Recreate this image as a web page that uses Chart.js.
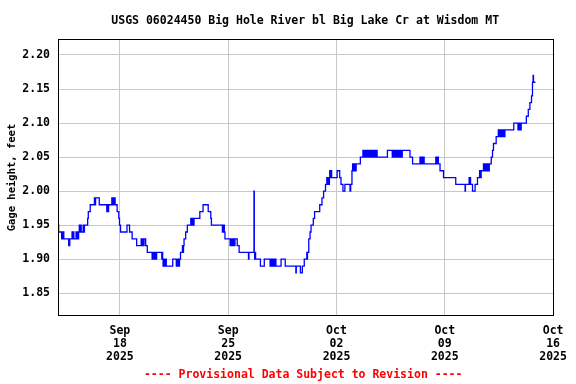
<!DOCTYPE html>
<html>
<head>
<meta charset="utf-8">
<title>USGS 06024450 Big Hole River</title>
<script src="https://cdn.jsdelivr.net/npm/chart.js@4.4.1/dist/chart.umd.min.js"></script>
<style>
  html, body { margin: 0; padding: 0; background: #fff; }
  canvas { display: block; }
</style>
</head>
<body>
<canvas id="gageChart" width="576" height="384"></canvas>
<script>
// === Data: hours counted from Sep 14 2025 00:00, gage height in feet ===
const hours = [
    0, 1, 5.7, 6.5, 7.5, 8.3, 9, 16.6, 18.2, 21.8,
    22.4, 24, 24.6, 28, 29, 30, 31, 32, 33, 34,
    35, 36, 39, 40, 41, 46, 47, 50, 56.5, 57.5,
    58.3, 64, 75.7, 76.5, 77.5, 78.5, 83.5, 84.5, 85.5, 86.5,
    87.5, 88.6, 91.7, 94.3, 95.4, 97, 107, 111, 115, 122,
    129, 130, 131, 132.5, 133.5, 136, 138.5, 146, 147, 148.5,
    150, 151.5, 153, 161, 161.7, 162.3, 163, 164, 165, 166,
    168, 178, 183.5, 184.5, 185.5, 186.5, 187.5, 188.5, 190, 193,
    194, 194.7, 195.5, 198, 200.6, 206, 207, 208.5, 210, 211,
    220, 225, 233, 237, 238, 255, 257, 258, 259, 267,
    268.5, 270, 271.5, 273, 274.5, 278, 281, 295.5, 296.2, 304,
    304.5, 305, 305.8, 306.5, 314, 320, 329, 330, 331.5, 333,
    334.5, 336, 338, 346, 352.5, 369, 369.6, 376, 379, 382,
    386, 386.7, 387, 389, 391, 392.5, 396, 398, 406, 409.5,
    412, 415, 417, 418, 419, 420, 421, 421.5, 422, 424,
    424.5, 433, 437, 439, 442, 445, 453, 454, 456, 457,
    458, 459.5, 461, 462.5, 469, 473, 474, 475.5, 477, 478.5,
    480, 481.5, 483, 484.5, 486, 487.5, 489, 490.5, 492, 493.5,
    495, 511, 518.5, 519.5, 521, 522.5, 524, 525.5, 527, 528.5,
    530, 531.5, 533, 534, 546, 550, 561.5, 563, 564.5, 566,
    567, 568, 586, 587.5, 588.5, 590, 592.6, 598, 617, 631.5,
    632, 637.7, 638.5, 639, 640, 643, 647, 650.7, 654, 655,
    656.4, 660, 661.5, 663, 664.5, 666, 667.5, 669, 672, 674,
    675.5, 679.7, 683, 684, 685, 686, 688, 689.5, 691, 692.5,
    693.2, 707, 713.5, 714.5, 715.5, 717, 718, 718.5, 726.5, 729.5,
    732, 734.5, 736, 737, 737.6, 740.5
];
const gageFt = [
    1.95, 1.94, 1.93, 1.94, 1.93, 1.94, 1.93, 1.92, 1.93, 1.94,
    1.93, 1.94, 1.93, 1.94, 1.93, 1.94, 1.93, 1.94, 1.95, 1.94,
    1.95, 1.94, 1.95, 1.94, 1.95, 1.96, 1.97, 1.98, 1.99, 1.98,
    1.99, 1.98, 1.97, 1.98, 1.97, 1.98, 1.99, 1.98, 1.99, 1.98,
    1.99, 1.98, 1.97, 1.96, 1.95, 1.94, 1.95, 1.94, 1.93, 1.92,
    1.93, 1.92, 1.93, 1.92, 1.93, 1.92, 1.91, 1.90, 1.91, 1.90,
    1.91, 1.90, 1.91, 1.90, 1.91, 1.90, 1.89, 1.90, 1.89, 1.90,
    1.89, 1.90, 1.89, 1.90, 1.89, 1.90, 1.89, 1.90, 1.91, 1.92,
    1.91, 1.92, 1.93, 1.94, 1.95, 1.96, 1.95, 1.96, 1.95, 1.96,
    1.97, 1.98, 1.97, 1.96, 1.95, 1.94, 1.95, 1.94, 1.93, 1.92,
    1.93, 1.92, 1.93, 1.92, 1.93, 1.92, 1.91, 1.90, 1.91, 2.00,
    1.91, 1.90, 1.91, 1.90, 1.89, 1.90, 1.89, 1.90, 1.89, 1.90,
    1.89, 1.90, 1.89, 1.90, 1.89, 1.88, 1.89, 1.88, 1.89, 1.90,
    1.91, 1.90, 1.91, 1.93, 1.94, 1.95, 1.96, 1.97, 1.98, 1.99,
    2.00, 2.01, 2.02, 2.01, 2.02, 2.01, 2.02, 2.03, 2.02, 2.03,
    2.02, 2.03, 2.02, 2.01, 2.00, 2.01, 2.00, 2.01, 2.03, 2.04,
    2.03, 2.04, 2.03, 2.04, 2.05, 2.06, 2.05, 2.06, 2.05, 2.06,
    2.05, 2.06, 2.05, 2.06, 2.05, 2.06, 2.05, 2.06, 2.05, 2.06,
    2.05, 2.06, 2.05, 2.06, 2.05, 2.06, 2.05, 2.06, 2.05, 2.06,
    2.05, 2.06, 2.05, 2.06, 2.05, 2.04, 2.05, 2.04, 2.05, 2.04,
    2.05, 2.04, 2.05, 2.04, 2.05, 2.04, 2.03, 2.02, 2.01, 2.00,
    2.01, 2.02, 2.01, 2.02, 2.01, 2.00, 2.01, 2.02, 2.03, 2.02,
    2.03, 2.04, 2.03, 2.04, 2.03, 2.04, 2.03, 2.04, 2.05, 2.06,
    2.07, 2.08, 2.09, 2.08, 2.09, 2.08, 2.09, 2.08, 2.09, 2.08,
    2.09, 2.10, 2.09, 2.10, 2.09, 2.10, 2.09, 2.10, 2.11, 2.12,
    2.13, 2.14, 2.16, 2.17, 2.16, 2.16
];

// === Axis ticks ===
const xTickHours = [96, 264, 432, 600, 768];
const xTickLabels = [
    ["Sep", "18", "2025"],
    ["Sep", "25", "2025"],
    ["Oct", "02", "2025"],
    ["Oct", "09", "2025"],
    ["Oct", "16", "2025"]
];
const yTicks = [1.85, 1.90, 1.95, 2.00, 2.05, 2.10, 2.15, 2.20];

const chartTitle = "USGS 06024450 Big Hole River bl Big Lake Cr at Wisdom MT";
const footerText = "---- Provisional Data Subject to Revision ----";
const monoFont = "'DejaVu Sans Mono', 'Liberation Mono', monospace";

// === Frame, title and footer ===
const framePlugin = {
    id: "framePlugin",
    afterDraw(chart) {
        const { ctx, chartArea: a } = chart;
        const cx = (a.left + a.right) / 2;
        ctx.save();
        ctx.strokeStyle = "#000";
        ctx.lineWidth = 1;
        ctx.strokeRect(Math.round(a.left) + 0.5, Math.round(a.top) + 0.5,
            Math.round(a.right - a.left) - 1, Math.round(a.bottom - a.top) - 1);

        ctx.font = "bold 11.5px " + monoFont;
        ctx.textAlign = "center";
        ctx.textBaseline = "middle";
        ctx.fillStyle = "#000";
        ctx.fillText(chartTitle, cx - 1, 21);
        ctx.fillStyle = "#ff0000";
        ctx.fillText(footerText, cx - 3, 375);
        ctx.restore();
    }
};

const points = hours.map((h, i) => ({ x: h, y: gageFt[i] }));

new Chart(document.getElementById("gageChart"), {
    type: "line",
    data: {
        datasets: [{
            label: "Gage height",
            data: points,
            borderColor: "#0000ff",
            borderWidth: 1.3,
            pointRadius: 0,
            stepped: "before",
            fill: false
        }]
    },
    options: {
        responsive: false,
        animation: false,
        layout: { padding: { top: 39, right: 21, left: 0, bottom: 0 } },
        plugins: {
            legend: { display: false },
            tooltip: { enabled: false }
        },
        scales: {
            x: {
                type: "linear",
                min: 0,
                max: 770,
                afterBuildTicks: scale => {
                    scale.ticks = xTickHours.map(v => ({ value: v }));
                },
                afterFit: scale => { scale.height = 68; },
                grid: { color: "#c8c8c8", lineWidth: 1, drawTicks: false },
                border: { display: false },
                ticks: {
                    autoSkip: false,
                    maxRotation: 0,
                    padding: 9,
                    color: "#000",
                    font: { family: monoFont, size: 11.5, weight: "bold", lineHeight: 1.1 },
                    callback: (value, index) => xTickLabels[index]
                }
            },
            y: {
                type: "linear",
                min: 1.8166,
                max: 2.2235,
                afterBuildTicks: scale => {
                    scale.ticks = yTicks.map(v => ({ value: v }));
                },
                afterFit: scale => { scale.width = 58; },
                grid: { color: "#c8c8c8", lineWidth: 1, drawTicks: false },
                border: { display: false },
                ticks: {
                    padding: 8,
                    color: "#000",
                    font: { family: monoFont, size: 11.5, weight: "bold" },
                    callback: value => Number(value).toFixed(2)
                },
                title: {
                    display: true,
                    text: "Gage height, feet",
                    color: "#000",
                    font: { family: monoFont, size: 10.5, weight: "bold" },
                    padding: { top: 6, bottom: 0 }
                }
            }
        }
    },
    plugins: [framePlugin]
});
</script>
</body>
</html>
